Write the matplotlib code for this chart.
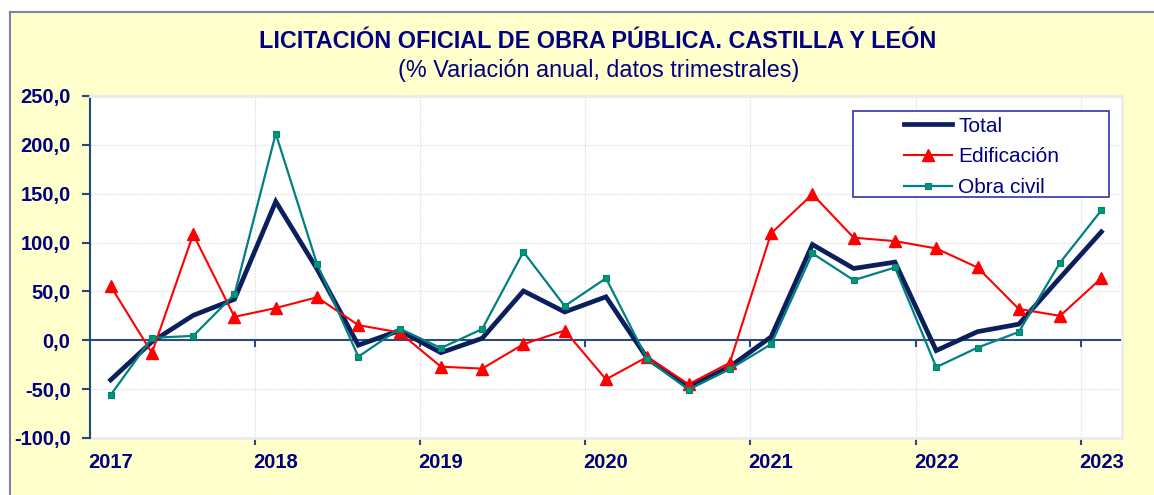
import numpy as np
import matplotlib
matplotlib.use("Agg")
import matplotlib.pyplot as plt
from matplotlib.patches import Rectangle
from matplotlib.ticker import FuncFormatter, FixedLocator

plt.rcParams["font.family"] = ["Liberation Sans", "DejaVu Sans"]

# quarterly data 2017T1 .. 2023T1
years = ["2017", "2018", "2019", "2020", "2021", "2022", "2023"]
total = [-40.6, -1.5, 25.5, 42.0, 142.0, 73.0, -5.0, 10.0, -12.7, 2.0, 50.5, 29.0, 44.5,
         -18.5, -48.0, -27.0, 3.5, 98.0, 73.5, 80.0, -10.5, 8.8, 16.5, 64.0, 111.0]
edificacion = [55.5, -13.0, 108.5, 24.0, 33.0, 44.0, 15.5, 8.0, -27.0, -29.0, -4.0, 10.0, -40.0,
               -17.0, -45.0, -23.0, 109.5, 149.5, 105.0, 101.5, 94.0, 74.5, 32.0, 25.0, 63.5]
obra_civil = [-56.0, 2.5, 4.5, 47.0, 211.5, 78.0, -16.8, 12.0, -8.0, 11.5, 90.5, 35.0, 63.5,
              -19.5, -50.5, -29.5, -4.0, 89.0, 61.5, 74.5, -27.5, -7.5, 8.5, 79.5, 133.0]

navy = "#000080"
W, H = 1154, 495
fig = plt.figure(figsize=(W / 100, H / 100), dpi=100)
fig.patch.set_facecolor("white")

# yellow chart frame
fig.add_artist(Rectangle((10 / W, 0), 1, 1 - 12 / H, transform=fig.transFigure,
                         facecolor="#FFFFCC", edgecolor="none", zorder=0))
fig.add_artist(plt.Line2D([10 / W, 1], [1 - 12 / H, 1 - 12 / H], transform=fig.transFigure,
                          color="#8080A8", lw=1.5))
fig.add_artist(plt.Line2D([10 / W, 10 / W], [0, 1 - 12 / H], transform=fig.transFigure,
                          color="#8080A8", lw=1.5))

ax = fig.add_axes([90 / W, (H - 438) / H, (1122 - 90) / W, (438 - 96) / H])
ax.set_facecolor("white")

x = np.arange(len(total))
ax.plot(x, total, color="#0A1F5C", lw=3.4, label="Total", zorder=3, solid_joinstyle="miter")
ax.plot(x, edificacion, color="#FF0000", lw=1.5, marker="^", ms=9, mfc="#FF0000",
        mec="#FF0000", label="Edificación", zorder=4)
ax.plot(x, obra_civil, color="#008080", lw=1.6, marker="s", ms=4.5, mfc="#00996B",
        mec="#008080", mew=0.8, label="Obra civil", zorder=5)

ax.set_xlim(-0.5, len(total) - 0.5)
ax.set_ylim(-100, 250)
ax.set_yticks(np.arange(-100, 251, 50))
ax.yaxis.set_major_formatter(FuncFormatter(lambda v, p: f"{v:.1f}".replace(".", ",")))
ax.tick_params(axis="y", length=6, width=1.5, color="#1F497D", pad=8, labelsize=14.5,
               labelcolor=navy)
for t in ax.get_yticklabels():
    t.set_fontweight("bold")

bounds = np.arange(3.5, len(total), 4)
ax.xaxis.set_major_locator(FixedLocator(bounds))
ax.set_xticklabels([])
ax.tick_params(axis="x", length=5, width=1.5, color="#2E4A7A", direction="out")

ax.grid(True, color="#E4E4E4", lw=0.8, ls=(0, (2, 1)))
ax.set_axisbelow(True)

for s in ["top", "right", "bottom"]:
    ax.spines[s].set_color("#EBEBEB")
    ax.spines[s].set_linewidth(2)
ax.spines["bottom"].set_visible(False)
ax.spines["left"].set_color("#1F497D")
ax.spines["left"].set_linewidth(1.5)
ax.axhline(0, color="#2E4A7A", lw=1.5, zorder=2)
ax.plot([0, 1], [0, 0], transform=ax.transAxes, color="#EBEBEB", lw=2, clip_on=False)
# tick marks on the zero axis
ax.vlines(bounds, -6.5, 0, color="#2E4A7A", lw=1.5, zorder=2)

for i, yr in enumerate(years):
    ax.text(i * 4, -0.073, yr, transform=ax.get_xaxis_transform(), ha="center", va="center",
            fontsize=14.5, fontweight="bold", color=navy)

# legend box
lx0, lx1 = (853 - 90) / 1032, (1109 - 90) / 1032
ly0, ly1 = (438 - 197) / 342, (438 - 111) / 342
ax.add_patch(Rectangle((lx0, ly0), lx1 - lx0, ly1 - ly0, transform=ax.transAxes,
                       facecolor="white", edgecolor="#3333AA", lw=1.2, zorder=6))
leg = ax.legend(loc="upper left", bbox_to_anchor=((904 - 90) / 1032 - 0.008, ly1 + 0.008),
                frameon=False, fontsize=15, handlelength=2.3, handletextpad=0.3,
                labelspacing=0.56, borderaxespad=0)
leg.set_zorder(7)
for t in leg.get_texts():
    t.set_color(navy)

fig.text(598 / W, 1 - 42 / H, "LICITACIÓN OFICIAL DE OBRA PÚBLICA. CASTILLA Y LEÓN",
         ha="center", va="center", fontsize=16.8, fontweight="bold", color=navy)
fig.text(599 / W, 1 - 70 / H, "(% Variación anual, datos trimestrales)",
         ha="center", va="center", fontsize=16.8, color=navy)

fig.savefig("out.png", dpi=100, facecolor=fig.get_facecolor())
